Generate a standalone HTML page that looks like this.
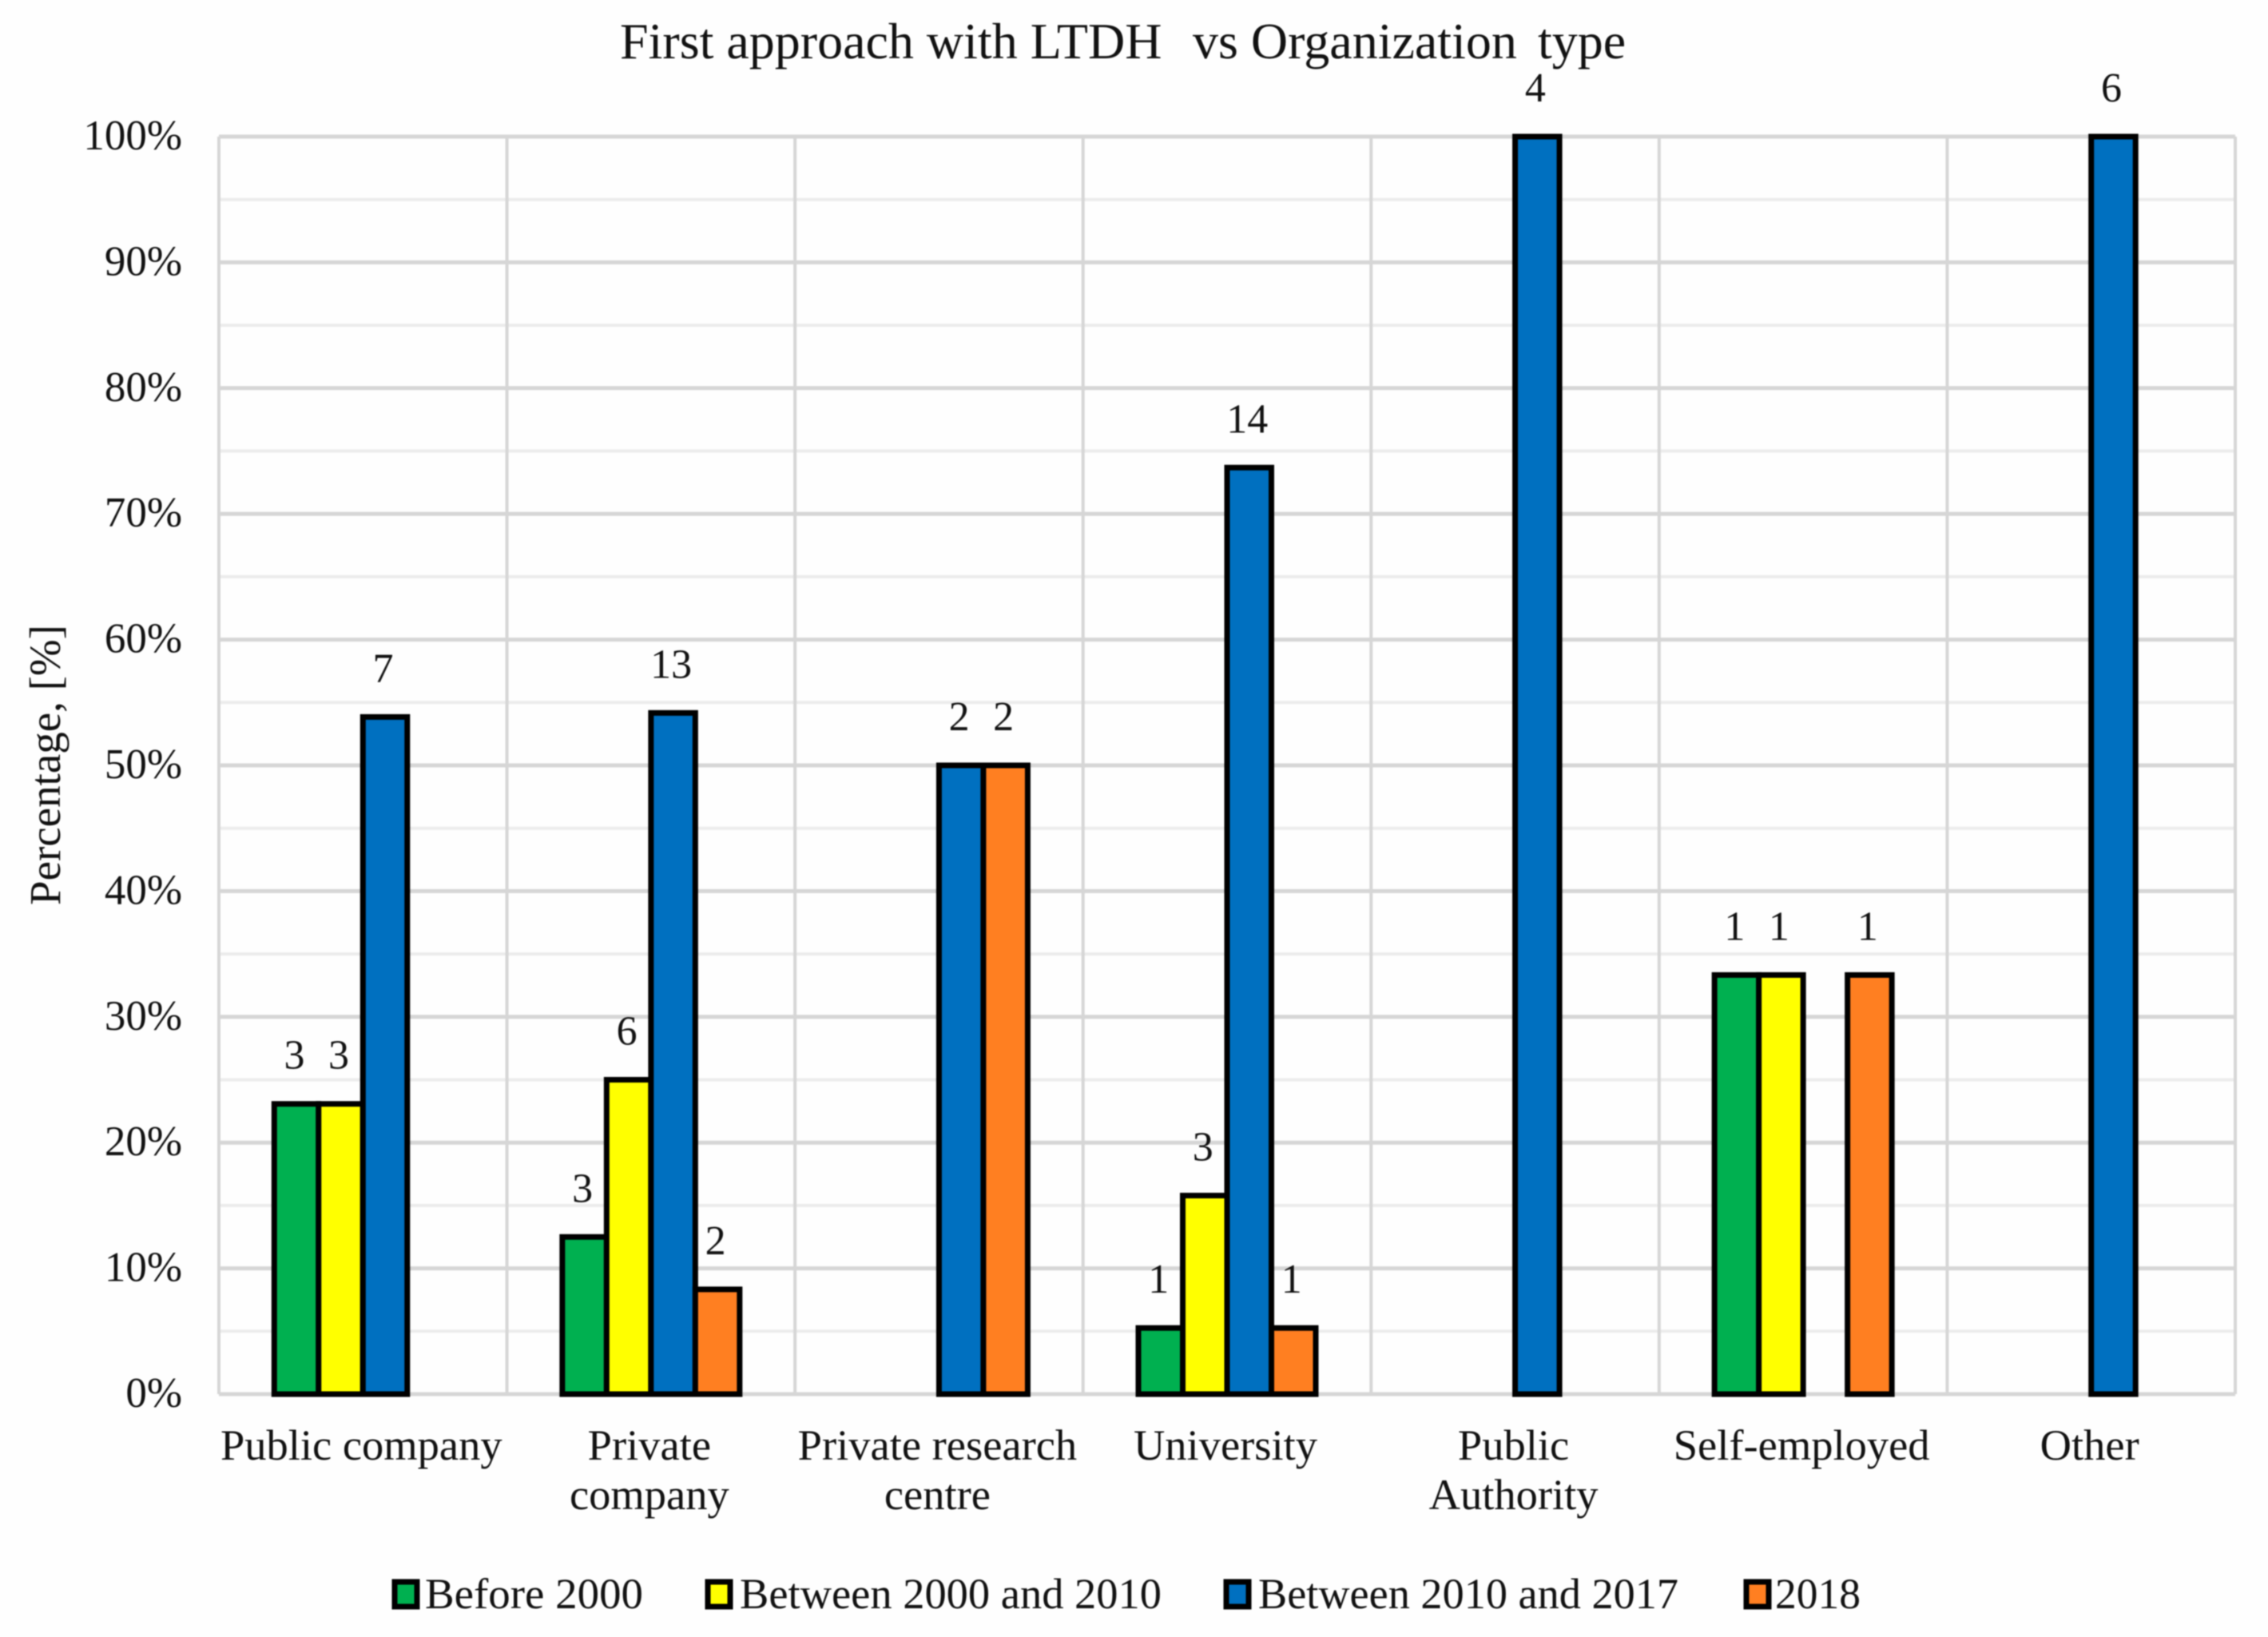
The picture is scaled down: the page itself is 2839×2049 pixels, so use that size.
<!DOCTYPE html>
<html lang="en">
<head>
<meta charset="utf-8">
<title>First approach with LTDH vs Organization type</title>
<style>
html,body{margin:0;padding:0;background:#fefefe;}
body{width:2839px;height:2049px;overflow:hidden;}
svg{display:block;filter:blur(0.7px);}
text{font-family:"Liberation Serif",serif;fill:#111;}
</style>
</head>
<body>
<svg id="chart" xmlns="http://www.w3.org/2000/svg" width="2839" height="2049" viewBox="0 0 2839 2049">
  <rect x="0" y="0" width="2839" height="2049" fill="#fefefe"/>
  <text y="73" font-size="64"><tspan x="776">First approach with LTDH</tspan> <tspan x="1493">vs Organization</tspan> <tspan x="1925">type</tspan></text>
  <text transform="translate(75,1133) rotate(-90)" font-size="55" fill="#222" textLength="351" lengthAdjust="spacingAndGlyphs">Percentage, [%]</text>
  <g id="grid"></g>
  <g id="yticks"></g>
  <g id="bars"></g>
  <g id="labels"></g>
  <g id="xticks"></g>
  <g id="legend"></g>
</svg>
<script>
const categories = [
  ["Public company"],
  ["Private", "company"],
  ["Private research", "centre"],
  ["University"],
  ["Public", "Authority"],
  ["Self-employed"],
  ["Other"]
];
const seriesNames = ["Before 2000", "Between 2000 and 2010", "Between 2010 and 2017", "2018"];
const seriesColors = ["#00b050", "#ffff00", "#0070c0", "#ff7f21"];
const before2000 = [23.08, 12.5, 0, 5.26, 0, 33.33, 0];
const between2000and2010 = [23.08, 25, 0, 15.79, 0, 33.33, 0];
const between2010and2017 = [53.85, 54.17, 50, 73.68, 100, 0, 100];
const year2018 = [0, 8.33, 50, 5.26, 0, 33.33, 0];
const countsBefore2000 = [3, 3, 0, 1, 0, 1, 0];
const countsBetween2000and2010 = [3, 6, 0, 3, 0, 1, 0];
const countsBetween2010and2017 = [7, 13, 2, 14, 4, 0, 6];
const counts2018 = [0, 2, 2, 1, 0, 1, 0];
const yTickLabels = [0, 10, 20, 30, 40, 50, 60, 70, 80, 90, 100];
const yMinorTicks = [5, 15, 25, 35, 45, 55, 65, 75, 85, 95];

const seriesValues = [before2000, between2000and2010, between2010and2017, year2018];
const seriesCounts = [countsBefore2000, countsBetween2000and2010, countsBetween2010and2017, counts2018];

const NS = "http://www.w3.org/2000/svg";
const plotLeft = 274, plotRight = 2798, plotTop = 171, plotBottom = 1745;
const barWidth = 55.5;

function yScale(v) { return plotBottom - (v / 100) * (plotBottom - plotTop); }
function xBand(i) { return plotLeft + i * (plotRight - plotLeft) / categories.length; }
function bandWidth() { return (plotRight - plotLeft) / categories.length; }
function xBar(i, s) {
  return xBand(i) + (bandWidth() - seriesNames.length * barWidth) / 2 + s * barWidth;
}
function make(tag, attrs, parent, text) {
  const el = document.createElementNS(NS, tag);
  for (const k in attrs) el.setAttribute(k, attrs[k]);
  if (text !== undefined) el.textContent = text;
  parent.appendChild(el);
  return el;
}

const grid = document.getElementById("grid");
const yticks = document.getElementById("yticks");
const bars = document.getElementById("bars");
const labels = document.getElementById("labels");
const xticks = document.getElementById("xticks");
const legend = document.getElementById("legend");

yMinorTicks.forEach(function (t) {
  const l = make("line", { x1: plotLeft, x2: plotRight, y1: yScale(t), y2: yScale(t), stroke: "#ececec", "stroke-width": 4 }, grid);
  
  
});
yTickLabels.forEach(function (t) {
  const l = make("line", { x1: plotLeft, x2: plotRight, y1: yScale(t), y2: yScale(t), stroke: "#d6d6d6", "stroke-width": 5 }, grid);
  
  
  const txt = make("text", { x: 228, y: yScale(t) + 16, "text-anchor": "end", "font-size": 53 }, yticks, t + "%");
  
  
});
for (let i = 0; i <= categories.length; i++) {
  const l = make("line", { x1: xBand(i), x2: xBand(i), y1: plotTop, y2: plotBottom, stroke: "#d6d6d6", "stroke-width": 4 }, grid);
  
  
}

seriesValues.forEach(function (vals, s) {
  vals.forEach(function (v, i) {
    if (!v) return;
    const r = make("rect", {
      x: xBar(i, s), y: yScale(v), width: barWidth, height: plotBottom - yScale(v),
      fill: seriesColors[s], stroke: "#000", "stroke-width": 7, "stroke-linejoin": "miter"
    }, bars);
    
    
  });
});

seriesCounts.forEach(function (vals, s) {
  vals.forEach(function (c, i) {
    if (!c) return;
    const t = make("text", {
      x: xBar(i, s) + barWidth / 2 - 2.5, y: yScale(seriesValues[s][i]) - 44,
      "text-anchor": "middle", "font-size": 52
    }, labels, c);
    
    
  });
});

categories.forEach(function (lines, i) {
  lines.forEach(function (line, j) {
    const t = make("text", {
      x: xBand(i) + bandWidth() / 2 - 2, y: 1827 + j * 62,
      "text-anchor": "middle", "font-size": 54.5
    }, xticks, line);
    
    
  });
});

const legendSwatchX = [494, 886, 1535, 2186];
const legendTextX = [532, 926, 1575, 2222];
const legendTextW = [273, 528, 526, 107];
seriesNames.forEach(function (name, s) {
  const g = make("g", {}, legend);
  
  
  const r = make("rect", { x: legendSwatchX[s], y: 1980, width: 28, height: 31, fill: seriesColors[s], stroke: "#000", "stroke-width": 7 }, g);
  
  
  const t = make("text", { x: legendTextX[s], y: 2013, "font-size": 54, textLength: legendTextW[s], lengthAdjust: "spacingAndGlyphs" }, g, name);
  
  
});
</script>
</body>
</html>
